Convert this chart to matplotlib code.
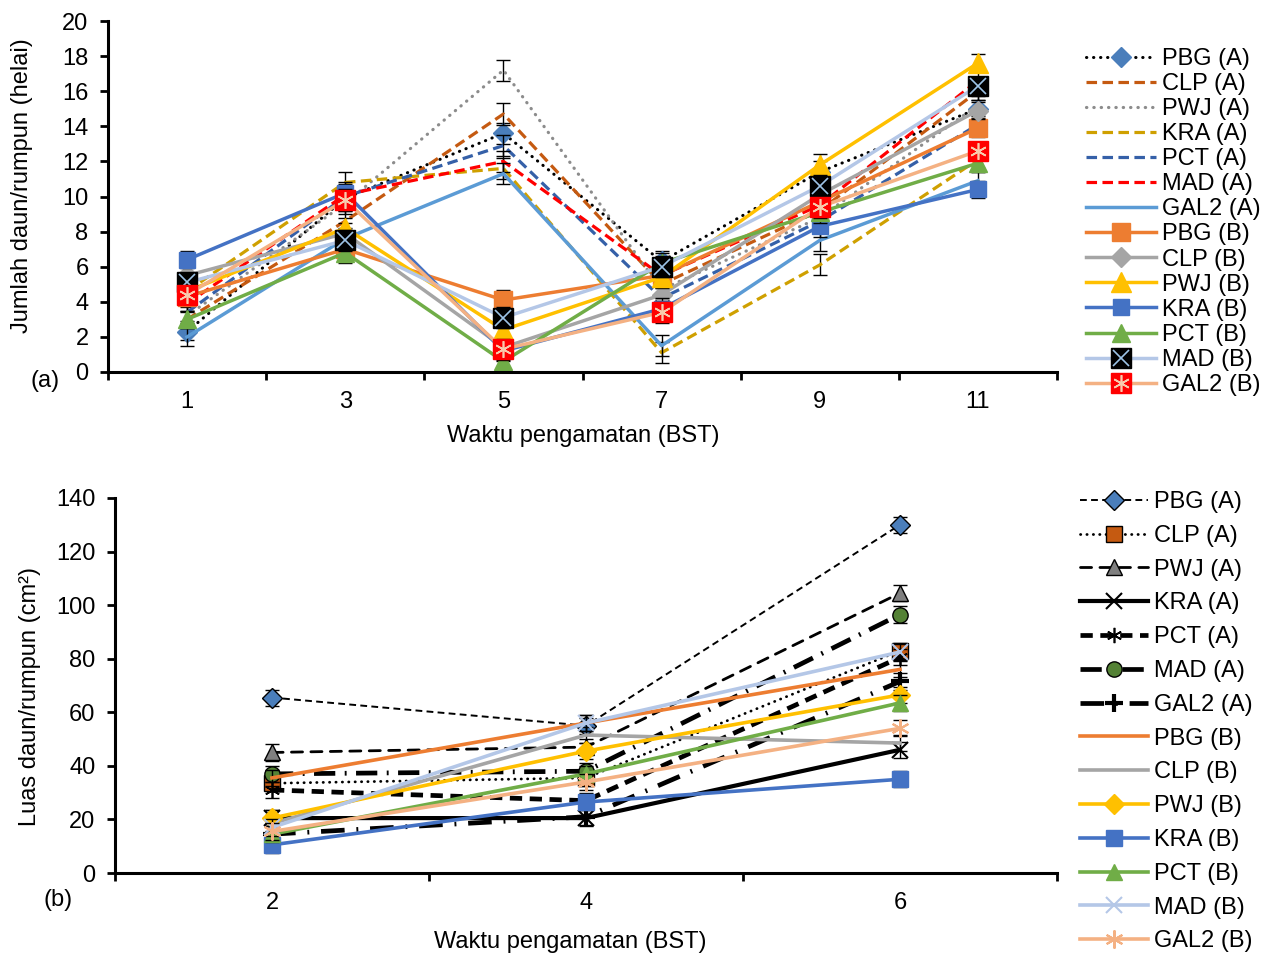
import matplotlib.pyplot as plt
from matplotlib.legend_handler import HandlerTuple

plt.rcParams['font.family'] = ['Liberation Sans', 'DejaVu Sans']

# ---- chart (a): jumlah daun ----
bst_daun = [1, 3, 5, 7, 9, 11]
daun_pbg_a = [2.3, 9.9, 13.6, 6.3, 11.4, 15.0]
daun_clp_a = [3.0, 8.6, 14.7, 5.0, 9.2, 16.0]
daun_pwj_a = [3.2, 9.6, 17.2, 4.7, 8.8, 15.2]
daun_kra_a = [4.6, 10.8, 11.6, 1.1, 6.1, 12.1]
daun_pct_a = [3.4, 10.0, 12.9, 4.2, 8.6, 14.1]
daun_mad_a = [3.9, 10.1, 12.0, 5.5, 9.5, 16.6]
daun_gal2_a = [2.0, 7.6, 11.3, 1.5, 7.5, 10.9]
daun_pbg_b = [4.3, 7.0, 4.1, 5.5, 9.7, 13.9]
daun_clp_b = [5.5, 7.9, 1.4, 4.4, 10.1, 14.9]
daun_pwj_b = [4.6, 8.2, 2.4, 5.4, 11.8, 17.6]
daun_kra_b = [6.4, 10.2, 1.2, 3.6, 8.3, 10.4]
daun_pct_b = [3.0, 6.8, 0.6, 6.2, 9.1, 11.9]
daun_mad_b = [5.1, 7.5, 3.1, 6.0, 10.6, 16.3]
daun_gal2_b = [4.4, 9.8, 1.3, 3.4, 9.4, 12.6]
err_daun = [0.5, 0.6, 0.6, 0.6, 0.6, 0.5]

# ---- chart (b): luas daun ----
bst_luas = [2, 4, 6]
luas_pbg_a = [65.5, 55.0, 130.0]
luas_clp_a = [33.5, 35.5, 83.0]
luas_pwj_a = [45.0, 47.0, 104.5]
luas_kra_a = [20.5, 20.5, 46.0]
luas_pct_a = [31.0, 27.0, 80.5]
luas_mad_a = [37.0, 38.0, 96.5]
luas_gal2_a = [14.5, 21.0, 71.5]
luas_pbg_b = [35.5, 56.0, 76.0]
luas_clp_b = [18.5, 51.5, 48.5]
luas_pwj_b = [20.5, 45.5, 66.5]
luas_kra_b = [10.5, 26.5, 35.0]
luas_pct_b = [14.5, 37.0, 63.5]
luas_mad_b = [17.0, 56.0, 82.5]
luas_gal2_b = [15.5, 34.0, 54.0]
err_luas = [3.0, 3.0, 3.0]

names = ['PBG (A)', 'CLP (A)', 'PWJ (A)', 'KRA (A)', 'PCT (A)', 'MAD (A)',
         'GAL2 (A)', 'PBG (B)', 'CLP (B)', 'PWJ (B)', 'KRA (B)', 'PCT (B)',
         'MAD (B)', 'GAL2 (B)']

FS = 17
dot = (0, (0.1, 2.2))
dash = (0, (3.3, 1.7))
ast = (6, 2, 0)

fig = plt.figure(figsize=(12.76, 9.57), dpi=100)
ax1 = fig.add_axes([108 / 1276, 1 - 372 / 957, 949 / 1276, 351 / 957])
ax2 = fig.add_axes([115 / 1276, 1 - 873 / 957, 942 / 1276, 375 / 957])

# (values, color, linestyle, lw, marker, ms, mfc, overlay marker, overlay color)
top_series = [
    (daun_pbg_a, 'black', dot, 2.2, 'D', 10, '#4a7ebb', None, None),
    (daun_clp_a, '#C55A11', dash, 2.3, None, 0, None, None, None),
    (daun_pwj_a, '#8c8c8c', dot, 2.3, None, 0, None, None, None),
    (daun_kra_a, '#CFA000', dash, 2.3, None, 0, None, None, None),
    (daun_pct_a, '#3560A8', dash, 2.3, None, 0, None, None, None),
    (daun_mad_a, '#FF0000', dash, 2.3, None, 0, None, None, None),
    (daun_gal2_a, '#5B9BD5', '-', 2.5, None, 0, None, None, None),
    (daun_pbg_b, '#ED7D31', '-', 2.5, 's', 13, '#ED7D31', None, None),
    (daun_clp_b, '#A5A5A5', '-', 2.5, 'D', 10, '#A5A5A5', None, None),
    (daun_pwj_b, '#FFC000', '-', 2.5, '^', 14, '#FFC000', None, None),
    (daun_kra_b, '#4472C4', '-', 2.5, 's', 12, '#4472C4', None, None),
    (daun_pct_b, '#70AD47', '-', 2.5, '^', 13, '#70AD47', None, None),
    (daun_mad_b, '#B4C7E7', '-', 2.5, 's', 14, 'black', 'x', '#9DC3E6'),
    (daun_gal2_b, '#F4B183', '-', 2.5, 's', 14, '#FF0000', ast, '#F8CBAD'),
]

handles1 = []
for vals, col, ls, lw, mk, ms, mfc, ov, ovc in top_series:
    ax1.errorbar(bst_daun, vals, yerr=err_daun, fmt='none', ecolor='black',
                 elinewidth=1, capsize=5, capthick=1)
    line, = ax1.plot(bst_daun, vals, color=col, linestyle=ls, lw=lw,
                     marker=mk, ms=ms, mfc=mfc, mec=mfc,
                     dash_capstyle='round' if ls == dot else 'butt')
    if ov is not None:
        over, = ax1.plot(bst_daun, vals, linestyle='none', marker=ov,
                         ms=ms - 2, mec=ovc, mfc=ovc, mew=1.2)
        handles1.append((line, over))
    else:
        handles1.append(line)

ax1.set_xlim(0, 12)
ax1.set_ylim(0, 20)
ax1.set_yticks(range(0, 21, 2))
ax1.set_xticks(range(0, 13, 2))
ax1.set_xticklabels([])
ax1.set_xticks(bst_daun, minor=True)
ax1.set_xticklabels([str(v) for v in bst_daun], minor=True)
fig.text(583 / 1276, 1 - 436 / 957, 'Waktu pengamatan (BST)', fontsize=FS,
         ha='center', va='center')
fig.text(22 / 1276, 1 - 186 / 957, 'Jumlah daun/rumpun (helai)', fontsize=FS,
         ha='center', va='center', rotation=90)
fig.text(45 / 1276, 1 - 381 / 957, '(a)', fontsize=FS, ha='center', va='center')

fig.legend(handles1, names, loc='upper left',
           bbox_to_anchor=(1086 / 1276, 1 - 48 / 957),
           frameon=False, fontsize=FS, handlelength=2.95,
           handletextpad=0.25, labelspacing=0.13, borderpad=0,
           borderaxespad=0,
           handler_map={tuple: HandlerTuple(ndivide=1)})

bot_series = [
    (luas_pbg_a, 'black', (0, (3.5, 2.2)), 1.4, 'D', 10, '#4a7ebb', 'black', 1.0),
    (luas_clp_a, 'black', (0, (0.1, 2.2)), 2.0, 's', 11, '#C55A11', 'black', 1.0),
    (luas_pwj_a, 'black', (0, (4.0, 3.0)), 2.0, '^', 11, '#7f7f7f', 'black', 1.0),
    (luas_kra_a, 'black', '-', 3.0, 'x', 11, 'black', 'black', 1.5),
    (luas_pct_a, 'black', (0, (2.6, 1.6)), 3.4, ast, 11, 'black', 'black', 1.2),
    (luas_mad_a, 'black', (0, (4.5, 2.0, 0.4, 2.0)), 3.4, 'o', 11, '#548235', 'black', 1.0),
    (luas_gal2_a, 'black', (0, (5.0, 2.5, 0.4, 2.5)), 3.4, '+', 13, 'black', 'black', 3.0),
    (luas_pbg_b, '#ED7D31', '-', 2.6, None, 0, None, None, 1.0),
    (luas_clp_b, '#A5A5A5', '-', 2.6, None, 0, None, None, 1.0),
    (luas_pwj_b, '#FFC000', '-', 2.6, 'D', 10, '#FFC000', '#FFC000', 1.0),
    (luas_kra_b, '#4472C4', '-', 2.6, 's', 12, '#4472C4', '#4472C4', 1.0),
    (luas_pct_b, '#70AD47', '-', 2.6, '^', 12, '#70AD47', '#70AD47', 1.0),
    (luas_mad_b, '#B4C7E7', '-', 2.6, 'x', 12, '#B4C7E7', '#B4C7E7', 1.5),
    (luas_gal2_b, '#F4B183', '-', 2.6, ast, 13, '#F4B183', '#F4B183', 1.5),
]

handles2 = []
for vals, col, ls, lw, mk, ms, mfc, mec, mew in bot_series:
    ax2.errorbar(bst_luas, vals, yerr=err_luas, fmt='none', ecolor='black',
                 elinewidth=1, capsize=5, capthick=1)
    line, = ax2.plot(bst_luas, vals, color=col, linestyle=ls, lw=lw,
                     marker=mk, ms=ms, mfc=mfc, mec=mec, mew=mew,
                     dash_capstyle='round' if lw == 2.0 and ls != '-' else 'butt')
    handles2.append(line)

ax2.set_xlim(1, 7)
ax2.set_ylim(0, 140)
ax2.set_yticks(range(0, 141, 20))
ax2.set_xticks([1, 3, 5, 7])
ax2.set_xticklabels([])
ax2.set_xticks(bst_luas, minor=True)
ax2.set_xticklabels([str(v) for v in bst_luas], minor=True)
fig.text(570 / 1276, 1 - 942 / 957, 'Waktu pengamatan (BST)', fontsize=FS,
         ha='center', va='center')
fig.text(30 / 1276, 1 - 697 / 957, 'Luas daun/rumpun (cm²)', fontsize=FS,
         ha='center', va='center', rotation=90)
fig.text(58 / 1276, 1 - 900 / 957, '(b)', fontsize=FS, ha='center', va='center')

fig.legend(handles2, names, loc='upper left',
           bbox_to_anchor=(1080 / 1276, 1 - 491 / 957),
           frameon=False, fontsize=FS, handlelength=2.9,
           handletextpad=0.25, labelspacing=0.5, borderpad=0,
           borderaxespad=0)

for ax in (ax1, ax2):
    for side in ('top', 'right'):
        ax.spines[side].set_visible(False)
    for side in ('left', 'bottom'):
        ax.spines[side].set_linewidth(2.2)
    ax.tick_params(axis='both', which='major', direction='out', length=6,
                   width=2, labelsize=FS)
    ax.tick_params(axis='y', which='major', pad=8)
    ax.tick_params(axis='x', which='minor', length=0, labelsize=FS, pad=14)

fig.savefig('out.png', dpi=100)
